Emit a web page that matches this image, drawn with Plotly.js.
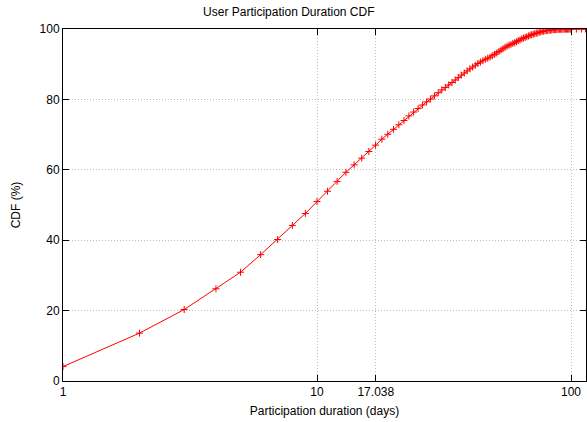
<!DOCTYPE html>
<html>
<head>
<meta charset="utf-8">
<script src="https://cdn.plot.ly/plotly-3.0.1.min.js"></script>
<style>
  html, body { margin: 0; padding: 0; background: #fff; }
  #chart { width: 587px; height: 422px; }
</style>
</head>
<body>
<div id="chart"></div>
<script>
// Participation duration in days (log scale)
const days = [
  1, 2, 3, 4, 5, 6, 7, 8, 9, 10,
  11, 12, 13, 14, 15, 16, 17, 18, 19, 20,
  21, 22, 23, 24, 25, 26, 27, 28, 29, 30,
  31, 32, 33, 34, 35, 36, 37, 38, 39, 40,
  41, 42, 43, 44, 45, 46, 47, 48, 49, 50,
  51, 52, 53, 54, 55, 56, 57, 58, 59, 60,
  61, 62, 63, 64, 65, 66, 67, 68, 69, 70,
  71, 72, 73, 74, 75, 76, 77, 78, 79, 80,
  81, 82, 83, 84, 85, 86, 87, 88, 89, 90,
  91, 92, 93, 94, 95, 96, 97, 98, 99, 100,
  105, 110, 114
];

// Cumulative share of users (%)
const cdf = [
  4.1, 13.6, 20.3, 26.2, 30.9, 35.9, 40.2, 44.2, 47.6, 51.0,
  53.9, 56.7, 59.3, 61.4, 63.3, 65.2, 67.0, 68.7, 70.1, 71.5,
  72.8, 74.0, 75.3, 76.4, 77.4, 78.4, 79.3, 80.1, 81.0, 81.9,
  82.7, 83.4, 84.1, 84.8, 85.5, 86.2, 86.9, 87.5, 88.1, 88.7,
  89.2, 89.7, 90.2, 90.6, 91.0, 91.4, 91.7, 92.0, 92.4, 92.8,
  93.2, 93.6, 94.0, 94.4, 94.8, 95.1, 95.4, 95.6, 95.9, 96.1,
  96.4, 96.7, 96.9, 97.2, 97.4, 97.6, 97.8, 98.0, 98.2, 98.4,
  98.5, 98.7, 98.8, 98.9, 99.1, 99.2, 99.3, 99.4, 99.5, 99.55,
  99.6, 99.65, 99.7, 99.75, 99.8, 99.82, 99.85, 99.87, 99.9, 99.91,
  99.92, 99.93, 99.94, 99.95, 99.96, 99.96, 99.97, 99.97, 99.98, 99.98,
  99.99, 100, 100
];

const xTickVals = [1, 10, 17.038, 100];
const xTickText = ['1', '10', '17.038', '100'];
const yTickVals = [0, 20, 40, 60, 80, 100];

const font = { family: 'Liberation Sans, Arial, sans-serif', size: 12, color: '#000' };

const trace = {
  x: days,
  y: cdf,
  type: 'scatter',
  mode: 'lines+markers',
  line: { color: '#ff0000', width: 1 },
  marker: { symbol: 'cross-thin-open', size: 5, color: '#ff0000', line: { color: '#ff0000', width: 1 } },
  hoverinfo: 'x+y'
};

const gridStyle = {
  showgrid: true,
  gridcolor: '#bdbdbd',
  griddash: '1px,2px',
  gridwidth: 1
};

const layout = {
  width: 587,
  height: 422,
  margin: { l: 63, r: 1, t: 29, b: 41 },
  paper_bgcolor: '#fff',
  plot_bgcolor: '#fff',
  showlegend: false,
  font: font,
  title: {
    text: 'User Participation Duration CDF',
    font: font,
    x: 0.492, xref: 'container', xanchor: 'center',
    y: 0.971, yref: 'container', yanchor: 'middle'
  },
  xaxis: Object.assign({
    type: 'log',
    range: [0, 2.059],
    tickvals: xTickVals,
    ticktext: xTickText,
    ticks: 'inside',
    ticklen: 6,
    tickcolor: '#000',
    showline: true,
    linecolor: '#000',
    linewidth: 1,
    mirror: 'ticks',
    zeroline: false,
    tickfont: font,
    title: { text: 'Participation duration (days)', font: font, standoff: 8 }
  }, gridStyle),
  yaxis: Object.assign({
    range: [0, 100],
    tickvals: yTickVals,
    ticks: 'inside',
    ticklen: 6,
    tickcolor: '#000',
    showline: true,
    linecolor: '#000',
    linewidth: 1,
    mirror: 'ticks',
    zeroline: false,
    tickfont: font,
    title: { text: 'CDF (%)', font: font, standoff: 16 }
  }, gridStyle)
};

Plotly.newPlot('chart', [trace], layout, { staticPlot: true, displayModeBar: false });
</script>
</body>
</html>
